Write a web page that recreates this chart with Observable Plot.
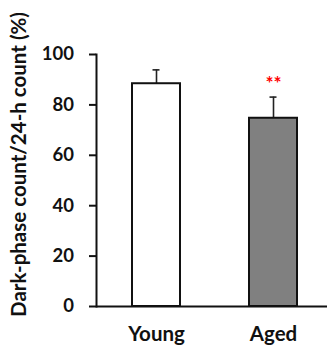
<!DOCTYPE html>
<html><head><meta charset="utf-8">
<script src="https://cdn.jsdelivr.net/npm/d3@7"></script>
<script src="https://cdn.jsdelivr.net/npm/@observablehq/plot@0.6"></script>
<style>
body{margin:0;background:#fff;}
</style>
</head><body><div id="chart"></div>
<script>
const groups = ["Young", "Aged"];
const means = [88.4, 74.7];
const errors = [5.5, 8.4];
const fills = ["#ffffff", "#808080"];
const marks = ["", "**"];
const yTicks = [0, 20, 40, 60, 80, 100];
const yLabel = "Dark-phase count/24-h count (%)";

const data = groups.map((g, i) => ({group: g, mean: means[i], top: means[i] + errors[i], fill: fills[i], mark: marks[i]}));

const chart = Plot.plot({
  width: 327, height: 350,
  marginLeft: 96, marginRight: 0, marginTop: 54, marginBottom: 44,
  style: {fontFamily: "Lato, 'Open Sans', sans-serif", fontWeight: 700, fontSize: "18.5px", color: "#111", background: "#fff"},
  x: {type: "band", domain: groups, range: [96, 332], paddingInner: 0.59, paddingOuter: 0.3},
  y: {domain: [0, 100]},
  marks: [
    Plot.ruleX(data, {x: "group", y1: "mean", y2: "top", stroke: "#222", strokeWidth: 1.6}),
    Plot.tickY(data, {x: "group", y: "top", stroke: "#222", strokeWidth: 1.6, inset: 20.5}),
    Plot.barY(data, {x: "group", y: "mean", fill: "fill", stroke: "#111", strokeWidth: 2}),
    Plot.text(data, {x: "group", y: "top", text: "mark", fill: "red", fontSize: 19, dy: -13, fontWeight: 700}),
    Plot.ruleY([0], {stroke: "#111", strokeWidth: 2}),
    Plot.axisY({ticks: yTicks, tickSize: 7, tickPadding: 15.5, label: null, stroke: "#111", strokeWidth: 2}),
    Plot.frame({anchor: "left", stroke: "#111", strokeWidth: 2}),
    Plot.axisX({tickSize: 0, tickPadding: 20.4, fontSize: 20.5, label: null}),
    Plot.text([yLabel], {frameAnchor: "left", text: d => d, textAnchor: "middle", rotate: -90, dx: -76.6, dy: -16, fontSize: 20.5, fontWeight: 700, fill: "#111"})
  ]
});
document.getElementById("chart").appendChild(chart);
</script>
</body></html>
